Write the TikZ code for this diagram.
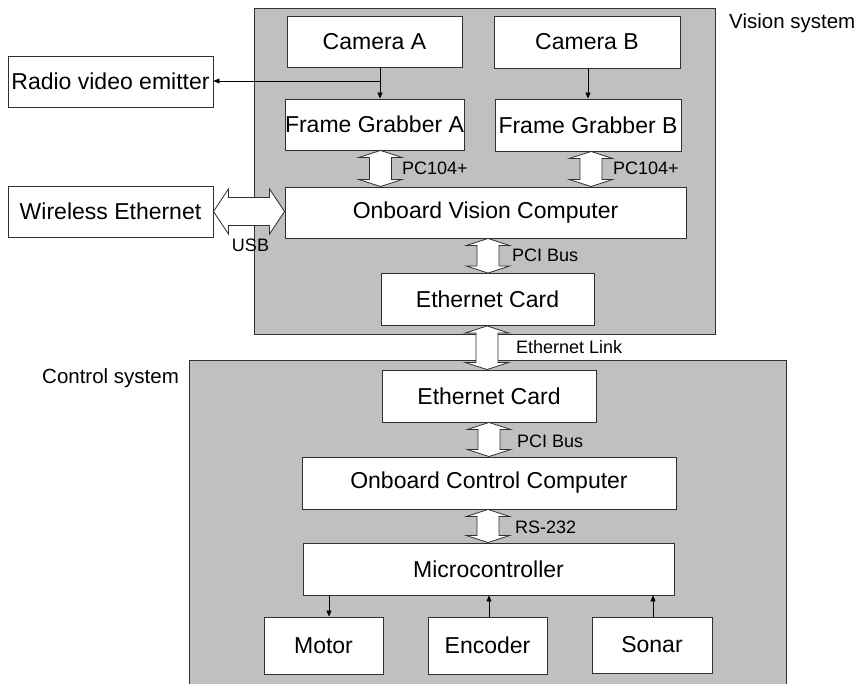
\documentclass[tikz,border=0pt]{standalone}
\usepackage{fontspec}
\setmainfont{Liberation Sans}
\usetikzlibrary{arrows.meta,calc}
\definecolor{panelgray}{HTML}{C0C0C0}
\definecolor{edgegray}{HTML}{303030}
\begin{document}
\begin{tikzpicture}[x=1pt,y=-1pt,
  box/.style={draw=edgegray,line width=0.9pt,fill=white,inner sep=0pt,
    font=\fontsize{23}{27}\selectfont},
  panel/.style={draw=edgegray,line width=0.9pt,fill=panelgray},
  lbl/.style={font=\fontsize{18}{21}\selectfont,inner sep=0pt,anchor=west},
  syslbl/.style={font=\fontsize{20.5}{24}\selectfont,inner sep=0pt,anchor=west},
  thin/.style={draw=black,line width=0.7pt,-{Triangle[length=6pt,width=5pt]}},
  fat/.style={draw=edgegray,line width=0.8pt,fill=white,line join=miter}
]
\useasboundingbox (0,0) rectangle (858,684);
% panels
\draw[panel] (254,8) rectangle (715,334);
\draw[panel] (189,360) rectangle (786,692);
% nodes
\node[box,minimum width=175,minimum height=51] (camA) at (374.5,41.5) {Camera A};
\node[box,minimum width=186,minimum height=52] (camB) at (587,42) {Camera B};
\node[box,minimum width=175,minimum height=51] (fga) at (374.5,124.5) {Frame Grabber A};
\node[box,minimum width=186,minimum height=52] (fgb) at (588,125) {Frame Grabber B};
\node[box,minimum width=401,minimum height=51] (ovc) at (485.5,212.5) {Onboard Vision Computer};
\node[box,minimum width=213,minimum height=52] (ec1) at (487.5,299.5) {Ethernet Card};
\node[box,minimum width=205,minimum height=51] (radio) at (110.5,81.5) {Radio video emitter};
\node[box,minimum width=205,minimum height=51] (wifi) at (110.5,211.5) {Wireless Ethernet};
\node[box,minimum width=214,minimum height=52] (ec2) at (489,396) {Ethernet Card};
\node[box,minimum width=374,minimum height=52] (occ) at (489,483) {Onboard Control Computer};
\node[box,minimum width=371,minimum height=52] (mc) at (488.5,569) {Microcontroller};
\node[box,minimum width=119,minimum height=57] (motor) at (323.5,645.5) {Motor};
\node[box,minimum width=119,minimum height=57] (enc) at (487.5,645.5) {Encoder};
\node[box,minimum width=120,minimum height=56] (sonar) at (652,645) {Sonar};
% labels
\node[syslbl] (vsys) at (729,23) {Vision system};
\node[syslbl] (csys) at (42,378) {Control system};
% x positions of connectors
\coordinate (xA) at (380,0);
\coordinate (xB) at (588,0);
\coordinate (xPB) at (591,0);
\coordinate (xMo) at (329,0);
\coordinate (xEn) at (489,0);
\coordinate (xSo) at (653,0);
\coordinate (split) at (380,81);
% thin arrows
\draw[thin] (camA.south -| xA) -- (fga.north -| xA);
\draw[thin] (split) -- (radio.east |- split);
\draw[thin] (camB.south -| xB) -- (fgb.north -| xB);
\draw[thin] (mc.south -| xMo) -- (motor.north -| xMo);
\draw[thin] (enc.north -| xEn) -- (mc.south -| xEn);
\draw[thin] (sonar.north -| xSo) -- (mc.south -| xSo);
% fat vertical double arrows
\newcommand{\vfat}[2]{%
  \path[fat] let \p1=(#1), \p2=(#2) in
    (\x1,\y1) -- (\x1+21.5pt,\y1-7pt) -- (\x1+11pt,\y1-7pt) -- (\x1+11pt,\y2+7pt)
    -- (\x1+21.5pt,\y2+7pt) -- (\x1,\y2) -- (\x1-21.5pt,\y2+7pt) -- (\x1-11pt,\y2+7pt)
    -- (\x1-11pt,\y1-7pt) -- (\x1-21.5pt,\y1-7pt) -- cycle;}
\coordinate (xPA) at (380.5,0);
\coordinate (xP1) at (488,0);
\coordinate (xEL) at (487,0);
\coordinate (xP2) at (489,0);
\coordinate (xRS) at (488,0);
\vfat{fga.south -| xPA}{ovc.north -| xPA}
\vfat{fgb.south -| xPB}{ovc.north -| xPB}
\vfat{ovc.south -| xP1}{ec1.north -| xP1}
\vfat{ec1.south -| xEL}{ec2.north -| xEL}
\vfat{ec2.south -| xP2}{occ.north -| xP2}
\vfat{occ.south -| xRS}{mc.north -| xRS}
% fat horizontal double arrow (USB)
\path[fat] let \p1=(wifi.east), \p2=(ovc.west |- wifi.east) in
  (\x1,\y1) -- (\x1+15pt,\y1+22.5pt) -- (\x1+15pt,\y1+14pt) -- (\x2-15pt,\y1+14pt)
  -- (\x2-15pt,\y1+22.5pt) -- (\x2,\y1) -- (\x2-15pt,\y1-22.5pt) -- (\x2-15pt,\y1-14pt)
  -- (\x1+15pt,\y1-14pt) -- (\x1+15pt,\y1-22.5pt) -- cycle;
% connector labels
\node[lbl] (lPA) at (402,168) {PC104+};
\node[lbl] (lPB) at (613,168) {PC104+};
\node[lbl] (lP1) at (512,255) {PCI Bus};
\node[lbl] (lEL) at (516,347) {Ethernet Link};
\node[lbl] (lP2) at (517,441) {PCI Bus};
\node[lbl] (lRS) at (515,527) {RS-232};
\node[lbl,anchor=center] (lUSB) at (250.5,245) {USB};
\end{tikzpicture}
\end{document}
